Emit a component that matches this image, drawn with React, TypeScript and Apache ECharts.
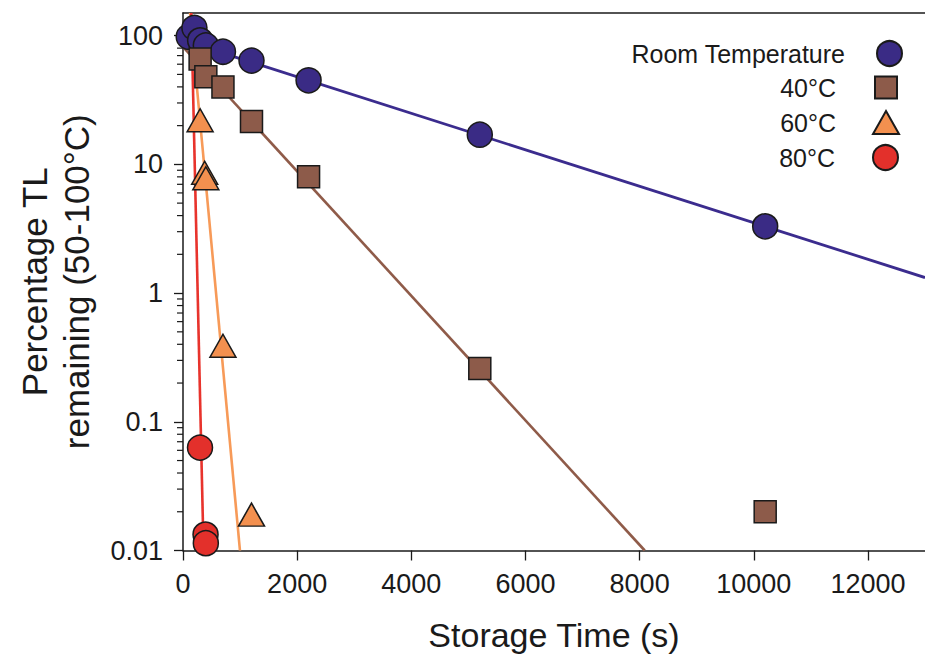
import React, { useEffect, useRef } from "react";
import * as echarts from "echarts";

// ---- data (storage time in s, percentage TL remaining) ----
const roomTemp: number[][] = [
  [100, 98], [200, 115], [300, 92], [400, 84], [700, 75], [1200, 64], [2200, 45], [5200, 17], [10200, 3.3],
];
const temp40: number[][] = [
  [300, 66], [400, 48], [700, 40], [1200, 21.5], [2200, 8], [5200, 0.26], [10200, 0.02],
];
const temp60: number[][] = [
  [300, 22], [380, 8.6], [400, 7.8], [700, 0.39], [1200, 0.019],
];
const temp80: number[][] = [
  [298, 0.063], [395, 0.0133], [400, 0.0114],
];
// fitted lines (end points)
const fitRoom: number[][] = [[0, 92], [13000, 1.32]];
const fit40: number[][] = [[0, 82], [8090, 0.01]];
const fit60: number[][] = [[123, 150], [998, 0.01]];
const fit80: number[][] = [[145, 150], [360, 0.01]];

const xTickValues = [0, 2000, 4000, 6000, 8000, 10000, 12000];
const yTickValues = [0.01, 0.1, 1, 10, 100];
const yMinorTickValues = [
  0.02, 0.03, 0.04, 0.05, 0.06, 0.07, 0.08, 0.09,
  0.2, 0.3, 0.4, 0.5, 0.6, 0.7, 0.8, 0.9,
  2, 3, 4, 5, 6, 7, 8, 9,
  20, 30, 40, 50, 60, 70, 80, 90,
];

const names = ["Room Temperature", "40°C", "60°C", "80°C"];
const fills = ["#3a2b85", "#8d5b4a", "#f3904f", "#e3302b"];
const lineColors = ["#3b2c8e", "#8f5b49", "#f79a58", "#e8332c"];

const FONT = "'Liberation Sans', Arial, sans-serif";

export default function App() {
  const ref = useRef<HTMLDivElement>(null);
  useEffect(() => {
    if (!ref.current) return;
    const chart = echarts.init(ref.current, undefined, { renderer: "svg" });
    const border = { borderColor: "#1a1a1a", borderWidth: 1.5 };
    const scatter = (i: number, data: number[][], symbol: string, size: any) => ({
      type: "scatter",
      name: names[i],
      data,
      symbol,
      symbolSize: size,
      clip: false,
      itemStyle: { color: fills[i], ...border, opacity: 1 },
      emphasis: { disabled: true },
      z: 3,
    });
    const fit = (i: number, data: number[][], w: number) => ({
      type: "line",
      name: names[i] + " fit",
      data,
      symbol: "none",
      lineStyle: { color: lineColors[i], width: w },
      silent: true,
      z: 3,
    });
    const legend = (i: number, top: number, right: number, w: number, h: number, pad: number) => ({
      data: [names[i]],
      orient: "vertical",
      align: "right",
      top,
      right,
      padding: 0,
      itemWidth: w,
      itemHeight: h,
      selectedMode: false,
      textStyle: { fontFamily: FONT, fontSize: 25, color: "#1a1a1a", padding: [0, pad, 0, 0] },
    });
    chart.setOption({
      animation: false,
      backgroundColor: "#ffffff",
      grid: { left: 183, right: 0, top: 13, bottom: 113.5, containLabel: false, outerBoundsMode: "none" },
      legend: [
        legend(0, 40, 22, 25, 25, 27),
        legend(1, 75, 27, 22, 22, 34),
        legend(2, 110, 25, 26, 23, 32),
        legend(3, 144, 26, 25, 25, 33),
      ],
      xAxis: [
        {
          type: "value",
          min: 0,
          max: 13000,
          name: "Storage Time (s)",
          nameLocation: "middle",
          nameGap: 67,
          nameTextStyle: { fontFamily: FONT, fontSize: 34, color: "#1a1a1a" },
          axisLine: { show: true, lineStyle: { color: "#1a1a1a", width: 1.5 } },
          axisTick: { show: true, inside: false, length: 10, lineStyle: { color: "#1a1a1a", width: 1.3 }, customValues: xTickValues },
          axisLabel: {
            fontFamily: FONT,
            fontSize: 27,
            color: "#1a1a1a",
            margin: 20,
            customValues: xTickValues,
            formatter: (v: number) => String(v),
          },
          splitLine: { show: false },
        },
        {
          type: "value",
          position: "top",
          min: 0,
          max: 13000,
          axisLine: { show: true, lineStyle: { color: "#1a1a1a", width: 1.5 } },
          axisTick: { show: false },
          axisLabel: { show: false },
          splitLine: { show: false },
        },
      ],
      yAxis: {
        type: "log",
        logBase: 10,
        min: 0.01,
        max: 150,
        name: "Percentage TL\nremaining (50-100°C)",
        nameLocation: "middle",
        nameGap: 86,
        nameTextStyle: { fontFamily: FONT, fontSize: 35, lineHeight: 42, color: "#1a1a1a", align: "center" },
        axisLine: { show: true, lineStyle: { color: "#1a1a1a", width: 1.5 } },
        axisTick: { show: true, inside: false, length: 9, lineStyle: { color: "#1a1a1a", width: 1.3 }, customValues: yTickValues },
        axisLabel: {
          fontFamily: FONT,
          fontSize: 27,
          color: "#1a1a1a",
          margin: 20,
          customValues: yTickValues,
          formatter: (v: number) => String(Number(v.toPrecision(3))),
        },
        splitLine: { show: false },
      },
      series: [
        {
          type: "custom",
          name: "minor ticks",
          clip: false,
          silent: true,
          data: yMinorTickValues.map((v) => [0, v]),
          renderItem: (_p: any, api: any) => {
            const c = api.coord([api.value(0), api.value(1)]);
            return {
              type: "line",
              shape: { x1: c[0] - 6, y1: c[1], x2: c[0], y2: c[1] },
              style: { stroke: "#1a1a1a", lineWidth: 1.2 },
            };
          },
          z: 1,
        },
        fit(0, fitRoom, 2.8),
        scatter(0, roomTemp, "circle", 25),
        fit(1, fit40, 2.6),
        scatter(1, temp40, "rect", 22),
        fit(2, fit60, 2.6),
        scatter(2, temp60, "triangle", [26, 23]),
        fit(3, fit80, 2.6),
        scatter(3, temp80, "circle", 25),
      ],
    });
    return () => chart.dispose();
  }, []);
  return (
    <div
      ref={ref}
      style={{ position: "fixed", left: 0, top: 0, width: 925, height: 664, background: "#fff" }}
    />
  );
}
